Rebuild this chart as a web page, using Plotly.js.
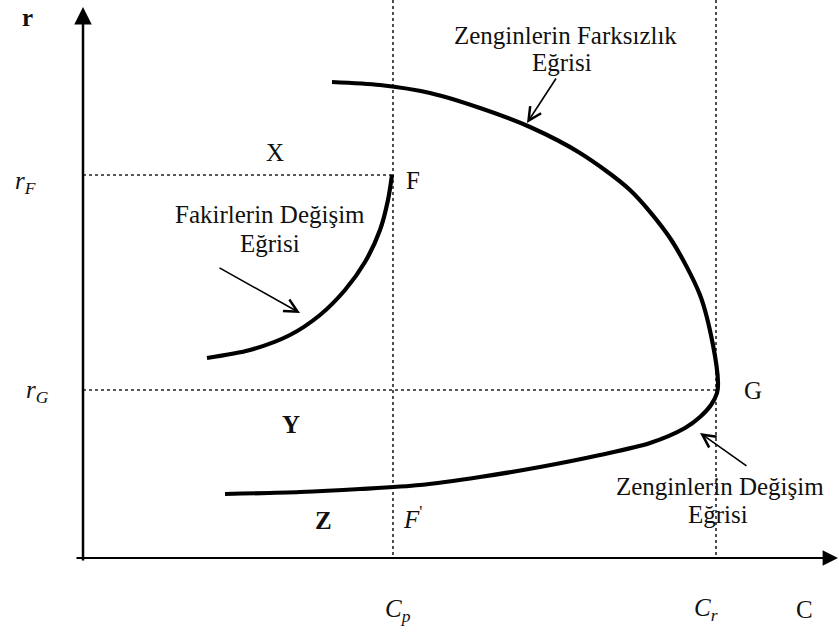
<!DOCTYPE html>
<html>
<head>
<meta charset="utf-8">
<script src="https://cdn.plot.ly/plotly-3.0.1.min.js"></script>
<style>html,body{margin:0;padding:0;background:#fff;}#chart{width:839px;height:633px;}</style>
</head>
<body>
<div id="chart"></div>
<script>
// Key levels (picture coordinates: C to the right, r measured downward on the page)
var rF = 175, rG = 390, Cp = 393, Cr = 716;
var axisOriginC = 83, axisOriginR = 558;

// Fakirlerin Değişim Eğrisi (poor's exchange curve)
var poorC = [207, 250, 290, 320, 345, 365, 380, 388, 392];
var poorR = [358, 350, 335, 315, 290, 262, 230, 200, 175];

// Zenginlerin Farksızlık / Değişim Eğrisi (rich's curve, top branch then bottom branch)
var richC = [332, 380, 430, 480, 530, 580, 630, 670, 700, 713, 718, 717, 711, 700, 685, 650, 600, 540, 480, 420, 360, 300, 225];
var richR = [82, 85, 93, 108, 127, 153, 190, 238, 295, 345, 383, 393, 405, 417, 428, 443, 455, 467, 477, 485, 489, 492, 494];

// Labels
var labelText = ['r', 'X', 'F', '<i>r</i><sub><i>F</i></sub>', 'Fakirlerin Değişim', 'Eğrisi',
  '<i>r</i><sub><i>G</i></sub>', 'G', 'Y', 'Z', '<i>F</i><sup>\'</sup>',
  'Zenginlerin Farksızlık', 'Eğrisi', 'Zenginlerin Değişim', 'Eğrisi',
  '<i>C</i><sub><i>p</i></sub>', '<i>C</i><sub><i>r</i></sub>', 'C'];
var labelC = [27, 275, 413, 25, 270, 270, 37, 753, 291, 323, 412, 565, 562, 720, 718, 398, 706, 804];
var labelR = [17, 152, 180, 182, 214, 243, 391, 390, 424, 520, 517, 35, 62, 486, 514, 610, 609, 609];
var labelBold = [true, false, false, false, false, false, false, false, true, true, false, false, false, false, false, false, false, false];

// Pointer arrows: tail and head points
var pointerTailC = [218, 557, 748];
var pointerTailR = [267, 77, 467];
var pointerHeadC = [300, 527, 700];
var pointerHeadR = [313, 123, 433];

var traces = [];
var dotStyle = {color: '#222', width: 1.6, dash: 'dot'};
traces.push({x: [axisOriginC, Cp], y: [rF, rF], mode: 'lines', line: dotStyle, hoverinfo: 'skip'});
traces.push({x: [axisOriginC, Cr], y: [rG, rG], mode: 'lines', line: dotStyle, hoverinfo: 'skip'});
traces.push({x: [Cp, Cp], y: [0, axisOriginR], mode: 'lines', line: dotStyle, hoverinfo: 'skip'});
traces.push({x: [Cr, Cr], y: [0, axisOriginR], mode: 'lines', line: dotStyle, hoverinfo: 'skip'});
traces.push({x: poorC, y: poorR, mode: 'lines', line: {color: '#000', width: 4.2, shape: 'spline', smoothing: 0.8}, hoverinfo: 'skip'});
traces.push({x: richC, y: richR, mode: 'lines', line: {color: '#000', width: 4.2, shape: 'spline', smoothing: 0.8}, hoverinfo: 'skip'});

var annotations = [];
annotations.push({x: axisOriginC, y: 7, ax: axisOriginC, ay: 562, xref: 'x', yref: 'y', axref: 'x', ayref: 'y',
  text: '', showarrow: true, arrowhead: 2, arrowsize: 1.4, arrowwidth: 2.5, arrowcolor: '#000'});
annotations.push({x: 838, y: axisOriginR, ax: 75, ay: axisOriginR, xref: 'x', yref: 'y', axref: 'x', ayref: 'y',
  text: '', showarrow: true, arrowhead: 2, arrowsize: 1.4, arrowwidth: 2.2, arrowcolor: '#000'});
for (var k = 0; k < pointerTailC.length; k++) {
  annotations.push({x: pointerHeadC[k], y: pointerHeadR[k], ax: pointerTailC[k], ay: pointerTailR[k],
    xref: 'x', yref: 'y', axref: 'x', ayref: 'y', text: '', showarrow: true,
    arrowhead: 5, arrowsize: 1.6, arrowwidth: 1.6, arrowcolor: '#000'});
}
for (var i = 0; i < labelText.length; i++) {
  annotations.push({x: labelC[i], y: labelR[i], xref: 'x', yref: 'y', showarrow: false,
    text: labelBold[i] ? '<b>' + labelText[i] + '</b>' : labelText[i],
    xanchor: 'center', yanchor: 'middle',
    font: {family: '"Liberation Serif", "Times New Roman", serif', size: 25, color: '#111'}});
}

var layout = {
  width: 839, height: 633,
  margin: {l: 0, r: 0, t: 0, b: 0, pad: 0},
  paper_bgcolor: '#fff', plot_bgcolor: '#fff',
  showlegend: false,
  font: {family: '"Liberation Serif", "Times New Roman", serif'},
  xaxis: {range: [0, 839], visible: false, fixedrange: true},
  yaxis: {range: [633, 0], visible: false, fixedrange: true},
  annotations: annotations
};

Plotly.newPlot('chart', traces, layout, {staticPlot: true, displayModeBar: false});
</script>
</body>
</html>
